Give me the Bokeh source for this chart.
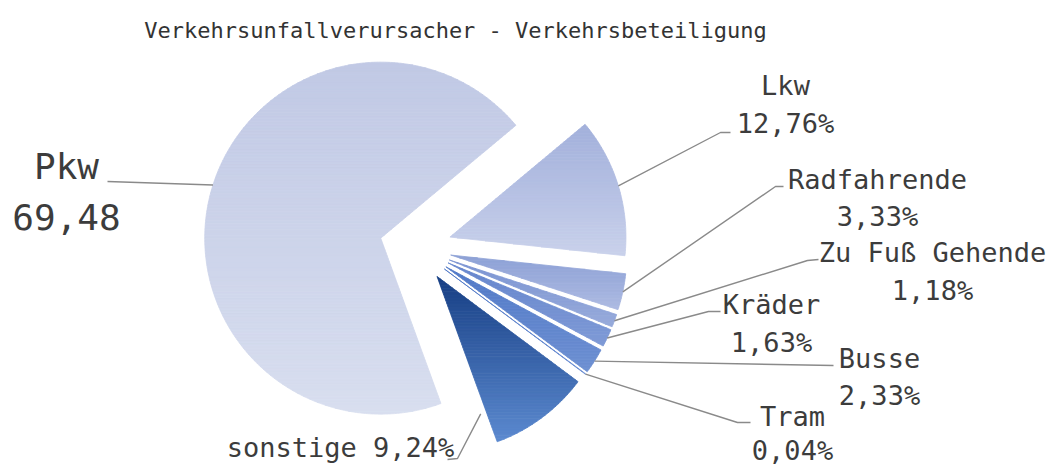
import math
import numpy as np
from bokeh.plotting import figure
from bokeh.models import ColumnDataSource, Range1d
from bokeh.core.properties import value
from bokeh.embed import file_html
from bokeh.resources import INLINE

# ---------------- data ----------------
title_text = "Verkehrsunfallverursacher - Verkehrsbeteiligung"
categories = ["Pkw", "Lkw", "Radfahrende", "Zu Fuß Gehende", "Kräder", "Busse", "Tram", "sonstige"]
shares = [69.48, 12.76, 3.33, 1.18, 1.63, 2.33, 0.04, 9.24]
value_labels = ["69,48", "12,76%", "3,33%", "1,18%", "1,63%", "2,33%", "0,04%", "9,24%"]

# ---------------- style / layout ----------------
W, H = 1048, 468
CX, CY = 415.0, H - 247.0
R = 176.0
EXPLODE = 36.0
START = 290.0  # degrees, first slice starts here and runs clockwise

top_colors = ["#C1C9E5", "#A2B0DB", "#8DA1D6", "#7B94D2", "#6686CD", "#5179C7", "#4A74C4", "#173F84"]
bot_colors = ["#D8DEEF", "#C9D1EB", "#AEBBE2", "#98ABDB", "#7F9AD6", "#6F91D3", "#6A8DD2", "#5C8AD0"]

FONT = "DejaVu Sans Mono"
TXT = "#3C3C3C"
LEAD = "#8A8A8A"

# leader attach tweaks (angle offset from bisector in degrees, radius fraction)
attach = {"Pkw": (-2.5, 1.0), "sonstige": (-19.0, 0.82)}
# leader path after the slice (screen px)
leader_pts = {
    "Pkw": [(107, 181)],
    "Lkw": [(720, 132), (730, 132)],
    "Radfahrende": [(775, 186), (783, 186)],
    "Zu Fuß Gehende": [(807, 260), (818, 259)],
    "Kräder": [(708, 311), (720, 311)],
    "Busse": [(833, 365)],
    "Tram": [(737, 422), (750, 422)],
    "sonstige": [(457, 458), (447, 459)],
}
# label lines placement (screen px): category -> (x, y_name, y_value, size)
label_pos = {
    "Pkw": (66, 166, 216, 36),
    "Lkw": (785, 85, 123, 27),
    "Radfahrende": (877, 179, 216, 27),
    "Zu Fuß Gehende": (932, 252, 290, 27),
    "Kräder": (771, 304, 342, 27),
    "Busse": (879, 358, 395, 27),
    "Tram": (792, 416, 450, 27),
}
sonstige_pos = (340, 447, 27)


def h2r(h):
    h = h.lstrip("#")
    return [int(h[i:i + 2], 16) for i in (0, 2, 4)]


def r2h(c):
    return "#%02x%02x%02x" % tuple(int(round(v)) for v in c)


def lerp(c1, c2, t):
    a, b = h2r(c1), h2r(c2)
    return r2h([a[i] + (b[i] - a[i]) * t for i in range(3)])


def clip(poly, y0, keep_above):
    out = []
    n = len(poly)
    for i in range(n):
        P, Q = poly[i], poly[(i + 1) % n]
        inP = P[1] >= y0 if keep_above else P[1] <= y0
        inQ = Q[1] >= y0 if keep_above else Q[1] <= y0
        if inP:
            out.append(P)
        if inP != inQ:
            t = (y0 - P[1]) / (Q[1] - P[1])
            out.append((P[0] + t * (Q[0] - P[0]), y0))
    return out


p = figure(width=W, height=H, x_range=Range1d(0, W), y_range=Range1d(0, H),
           x_axis_type=None, y_axis_type=None, toolbar_location=None,
           output_backend="svg", min_border=0)
p.outline_line_color = None
p.grid.visible = False
p.background_fill_color = "white"
p.border_fill_color = "white"

total = sum(shares)
a = START
sx, sy, sc = [], [], []
lead_xs, lead_ys = [], []
STRIP = 3.0
for i, cat in enumerate(categories):
    span = shares[i] / total * 360.0
    a1, a2 = a, a - span
    a = a2
    mid = math.radians((a1 + a2) / 2)
    ax = CX + EXPLODE * math.cos(mid)
    ay = CY + EXPLODE * math.sin(mid)
    n = max(3, int(abs(span) * 2) + 2)
    th = np.radians(np.linspace(a1, a2, n))
    poly = [(ax, ay)] + [(ax + R * math.cos(t), ay + R * math.sin(t)) for t in th]
    ys_ = [q[1] for q in poly]
    ymin, ymax = min(ys_), max(ys_)
    nstrips = max(1, int(math.ceil((ymax - ymin) / STRIP)))
    hh = (ymax - ymin) / nstrips
    for k in range(nstrips):
        y0 = ymin + k * hh
        y1 = y0 + hh
        part = clip(clip(poly, y0, True), y1, False)
        if len(part) < 3:
            continue
        t = (ymax - (y0 + y1) / 2) / (ymax - ymin) if ymax > ymin else 0.5
        sx.append([q[0] for q in part])
        sy.append([q[1] for q in part])
        sc.append(lerp(top_colors[i], bot_colors[i], t))
    # leader line
    off, frac = attach.get(cat, (0.0, 1.0))
    am = mid + math.radians(off)
    px0 = ax + R * frac * math.cos(am)
    py0 = ay + R * frac * math.sin(am)
    pts = [(px0, py0)] + [(x, H - y) for (x, y) in leader_pts[cat]]
    lead_xs.append([q[0] for q in pts])
    lead_ys.append([q[1] for q in pts])

p.patches("xs", "ys", source=ColumnDataSource(dict(xs=sx, ys=sy, c=sc)),
          fill_color="c", line_color="c", line_width=0.8)
p.multi_line(lead_xs, lead_ys, line_color=LEAD, line_width=1.4)

# labels
tx, ty, tt, ts = [], [], [], []
for i, cat in enumerate(categories):
    if cat in label_pos:
        x, yn, yv, s = label_pos[cat]
        tx += [x, x]
        ty += [H - yn, H - yv]
        tt += [cat, value_labels[i]]
        ts += [f"{s}px", f"{s}px"]
    else:
        x, yy, s = sonstige_pos
        tx.append(x)
        ty.append(H - yy)
        tt.append(f"{cat} {value_labels[i]}")
        ts.append(f"{s}px")

p.text(x="x", y="y", text="t", source=ColumnDataSource(dict(x=tx, y=ty, t=tt, s=ts)),
       text_font=value(FONT), text_font_size="s", text_color=TXT,
       text_align="center", text_baseline="middle")

p.text(x=[455], y=[H - 30], text=[title_text], text_font=value(FONT),
       text_font_size=value("22px"), text_color="#333333",
       text_align="center", text_baseline="middle")

open("out.html", "w").write(file_html(p, INLINE))
